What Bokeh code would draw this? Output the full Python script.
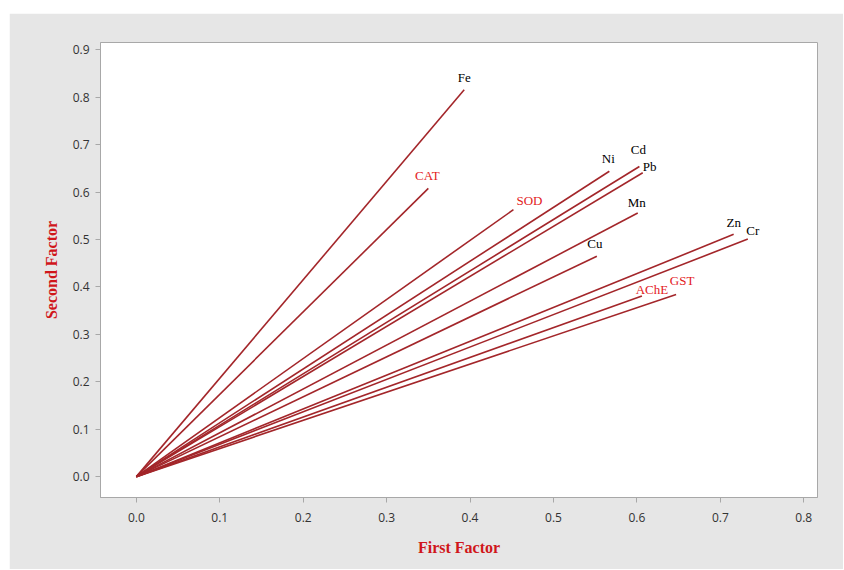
from bokeh.plotting import figure
from bokeh.models import ColumnDataSource, Range1d, FixedTicker, NumeralTickFormatter, Spacer
from bokeh.layouts import column, row
from bokeh.core.properties import value
from bokeh.embed import file_html
from bokeh.resources import INLINE

# Data: factor loadings (First Factor, Second Factor)
variables = ["Fe", "CAT", "SOD", "Ni", "Cd", "Pb", "Mn", "Cu", "Zn", "Cr", "AChE", "GST"]
first_factor = [0.393, 0.350, 0.452, 0.567, 0.603, 0.607, 0.601, 0.552, 0.716, 0.733, 0.606, 0.647]
second_factor = [0.816, 0.608, 0.563, 0.644, 0.654, 0.641, 0.556, 0.465, 0.511, 0.501, 0.381, 0.384]
is_enzyme = [False, True, True, False, False, False, False, False, False, False, True, True]
x_ticks = [0.0, 0.1, 0.2, 0.3, 0.4, 0.5, 0.6, 0.7, 0.8]
y_ticks = [0.0, 0.1, 0.2, 0.3, 0.4, 0.5, 0.6, 0.7, 0.8, 0.9]

# label placement offsets in screen pixels (styling)
label_dx = [0, -1, 16, -1, -1, 7, -1, -2, 0, 5, 10, 6]
label_dy = [-12, -13, -9, -13, -17, -6, -11, -13, -12, -9, -6, -14]

BG = "#e6e6e6"
LINE = "#a3262a"
RED = "#e3201c"
TITLE_RED = "#d0161b"

p = figure(width=834, height=556, output_backend="svg", toolbar_location=None,
           x_range=Range1d(-0.043, 0.8165), y_range=Range1d(-0.044, 0.9156),
           min_border_left=91, min_border_right=26, min_border_top=29, min_border_bottom=72)

p.background_fill_color = "white"
p.border_fill_color = BG
p.outline_line_color = "#a8a8a8"
p.outline_line_width = 1
p.grid.visible = False

src = ColumnDataSource(dict(
    x0=[0.0] * len(variables), y0=[0.0] * len(variables),
    x1=first_factor, y1=second_factor, name=variables,
    color=[RED if e else "black" for e in is_enzyme],
    dx=label_dx, dy=label_dy,
))

p.segment(x0="x0", y0="y0", x1="x1", y1="y1", source=src, line_color=LINE, line_width=1.6)

p.text(x="x1", y="y1", text="name", source=src, x_offset="dx", y_offset="dy",
       text_color="color", text_font=value("Liberation Serif"), text_font_size="13px",
       text_align="center", text_baseline="middle")

for ax in (p.xaxis[0], p.yaxis[0]):
    ax.axis_line_color = "#a8a8a8"
    ax.major_tick_line_color = "#a8a8a8"
    ax.major_tick_out = 5
    ax.major_tick_in = 0
    ax.minor_tick_line_color = None
    ax.major_label_text_font = "Open Sans"
    ax.major_label_text_font_size = "12px"
    ax.major_label_text_color = "#333333"
    ax.axis_label_text_font = "Liberation Serif"
    ax.axis_label_text_font_style = "bold"
    ax.axis_label_text_font_size = "16px"
    ax.axis_label_text_color = TITLE_RED
    ax.formatter = NumeralTickFormatter(format="0.0")

p.xaxis[0].ticker = FixedTicker(ticks=x_ticks)
p.yaxis[0].ticker = FixedTicker(ticks=y_ticks)
p.xaxis[0].axis_label = "First Factor"
p.yaxis[0].axis_label = "Second Factor"
p.xaxis[0].major_label_standoff = 10
p.yaxis[0].major_label_standoff = 6
p.xaxis[0].axis_label_standoff = 14
p.yaxis[0].axis_label_standoff = 10

layout = column(Spacer(height=13), row(Spacer(width=9), p))
open("out.html", "w").write(file_html(layout, INLINE))
